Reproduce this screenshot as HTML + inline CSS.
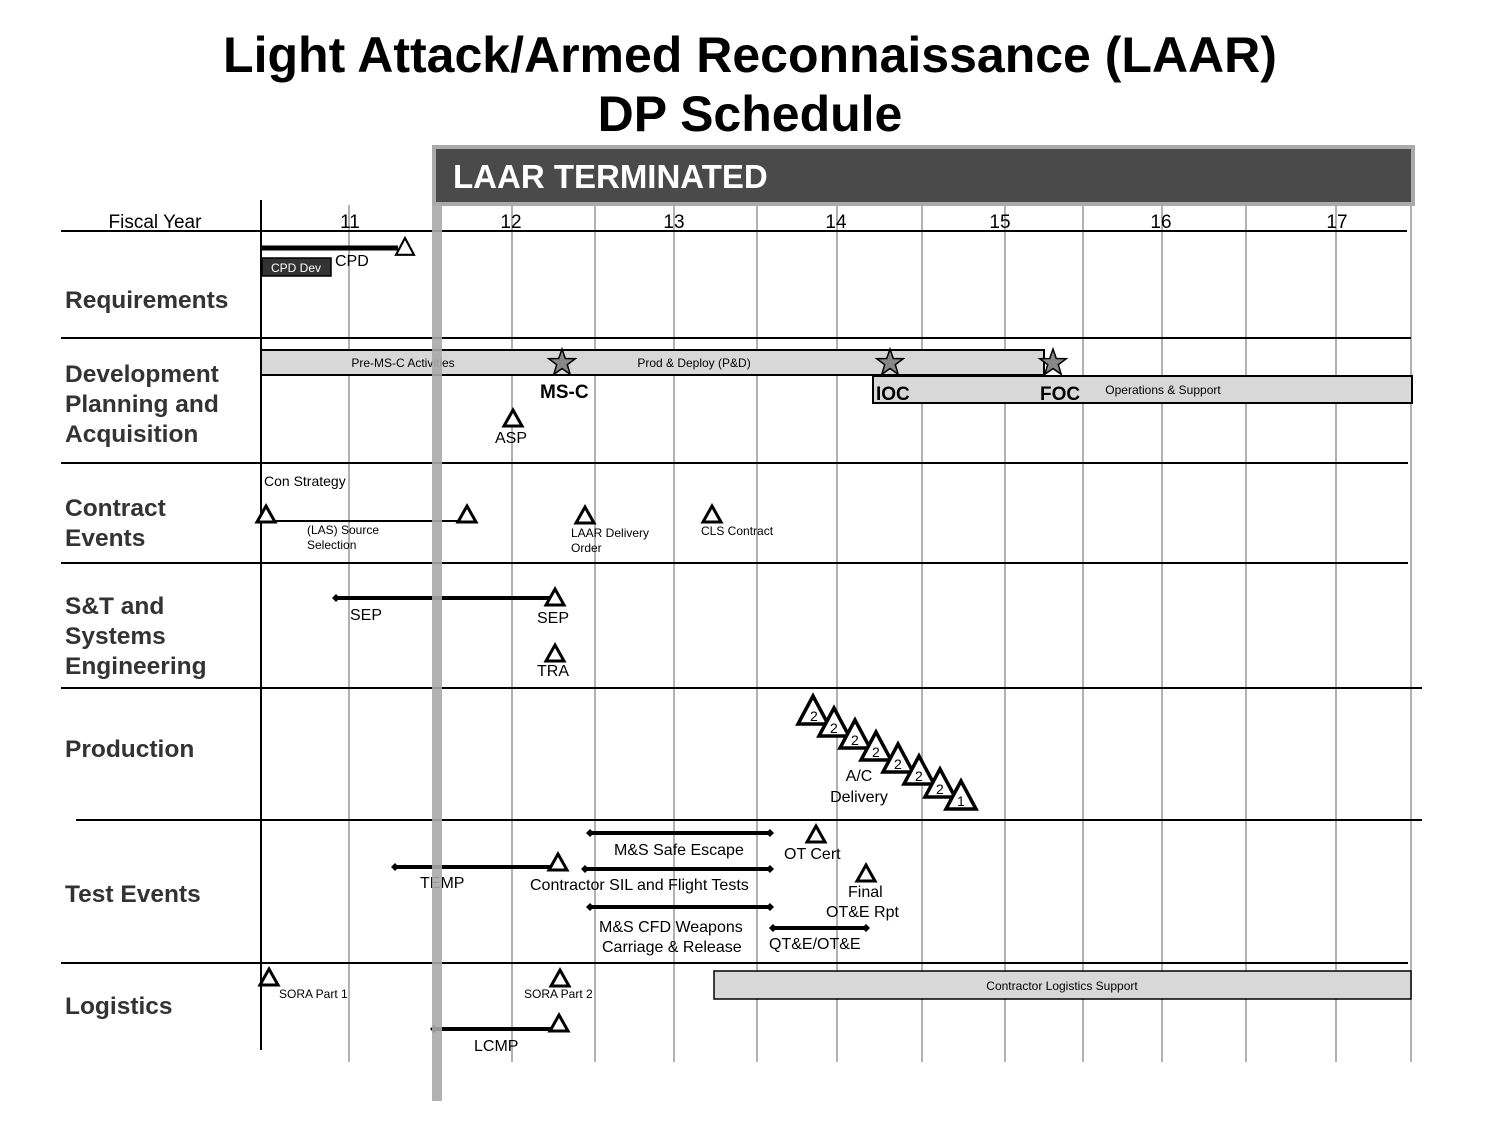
<!DOCTYPE html>
<html><head><meta charset="utf-8"><style>
html,body{margin:0;padding:0;background:#fff}
svg{display:block;font-family:"Liberation Sans",Arial,sans-serif}
</style></head><body>
<svg width="1499" height="1125" viewBox="0 0 1499 1125" xmlns="http://www.w3.org/2000/svg">
<defs>
<g id="tri"><polygon points="0,-8 9,8 -9,8" fill="#fff" stroke="#000" stroke-width="3" stroke-linejoin="miter"/></g>
<g id="btri"><polygon points="0,-15 15,13 -15,13" fill="#fff" stroke="#000" stroke-width="3.5"/></g>
<g id="star"><polygon points="0,-14 3.3,-4.5 13.3,-4.3 5.3,1.7 8.2,11.3 0,5.6 -8.2,11.3 -5.3,1.7 -13.3,-4.3 -3.3,-4.5" fill="#888" stroke="#000" stroke-width="1.5"/></g>
<g id="dia"><polygon points="0,-4 4,0 0,4 -4,0" fill="#000"/></g>
</defs>
<text x="750" y="72" font-size="50" font-weight="bold" text-anchor="middle">Light Attack/Armed Reconnaissance (LAAR)</text>
<text x="750" y="131" font-size="50" font-weight="bold" text-anchor="middle">DP Schedule</text>

<!-- vertical grid -->
<g stroke="#999" stroke-width="1.5">
<line x1="349" y1="205" x2="349" y2="1062"/><line x1="512" y1="205" x2="512" y2="1062"/>
<line x1="595" y1="205" x2="595" y2="1062"/><line x1="674" y1="205" x2="674" y2="1062"/>
<line x1="757" y1="205" x2="757" y2="1062"/><line x1="837" y1="205" x2="837" y2="1062"/>
<line x1="922" y1="205" x2="922" y2="1062"/><line x1="1005" y1="205" x2="1005" y2="1062"/>
<line x1="1083" y1="205" x2="1083" y2="1062"/><line x1="1162" y1="205" x2="1162" y2="1062"/>
<line x1="1246" y1="205" x2="1246" y2="1062"/><line x1="1336" y1="205" x2="1336" y2="1062"/>
<line x1="1411" y1="205" x2="1411" y2="1062"/>
</g>
<line x1="261" y1="200" x2="261" y2="1050" stroke="#000" stroke-width="2"/>

<!-- horizontal -->
<g stroke="#000" stroke-width="2">
<line x1="61" y1="231" x2="1407" y2="231"/><line x1="61" y1="338" x2="1411" y2="338"/>
<line x1="61" y1="463" x2="1408" y2="463"/><line x1="61" y1="563" x2="1408" y2="563"/>
<line x1="61" y1="688" x2="1422" y2="688"/><line x1="76" y1="820" x2="1422" y2="820"/>
<line x1="61" y1="963" x2="1408" y2="963"/>
</g>

<!-- banner -->
<rect x="434" y="147" width="979" height="57" fill="#4a4a4a" stroke="#aaa" stroke-width="4"/>
<text x="453" y="188" font-size="33" font-weight="bold" fill="#fff">LAAR TERMINATED</text>

<!-- year labels -->
<g font-size="19" text-anchor="middle">
<text x="155" y="228">Fiscal Year</text>
<text x="350" y="228">11</text><text x="511" y="228">12</text><text x="674" y="228">13</text>
<text x="836" y="228">14</text><text x="1000" y="228">15</text><text x="1161" y="228">16</text><text x="1337" y="228">17</text>
</g>

<!-- row labels -->
<g font-size="24.5" font-weight="bold" fill="#333">
<text x="65" y="308">Requirements</text>
<text x="65" y="382">Development</text><text x="65" y="412">Planning and</text><text x="65" y="442">Acquisition</text>
<text x="65" y="516">Contract</text><text x="65" y="546">Events</text>
<text x="65" y="614">S&amp;T and</text><text x="65" y="644">Systems</text><text x="65" y="674">Engineering</text>
<text x="65" y="757">Production</text>
<text x="65" y="902">Test Events</text>
<text x="65" y="1014">Logistics</text>
</g>

<!-- Requirements -->
<line x1="261" y1="248" x2="398" y2="248" stroke="#000" stroke-width="5"/>
<use href="#btri" transform="translate(405,247) scale(0.6)"/>
<rect x="262" y="258" width="69" height="18" fill="#333" stroke="#000" stroke-width="1.5"/>
<text x="296" y="272" font-size="12" fill="#fff" text-anchor="middle">CPD Dev</text>
<text x="335" y="266" font-size="16">CPD</text>

<!-- Dev planning -->
<rect x="261" y="350" width="783" height="25" fill="#d8d8d8" stroke="#000" stroke-width="2"/>
<rect x="873" y="376" width="539" height="27" fill="#d8d8d8" stroke="#000" stroke-width="2"/>
<text x="403" y="367" font-size="12" text-anchor="middle">Pre-MS-C Activities</text>
<text x="694" y="367" font-size="12" text-anchor="middle">Prod &amp; Deploy (P&amp;D)</text>
<text x="1163" y="394" font-size="12" text-anchor="middle">Operations &amp; Support</text>
<use href="#star" transform="translate(562,363)"/>
<use href="#star" transform="translate(890,363)"/>
<use href="#star" transform="translate(1053,363)"/>
<g font-size="19" font-weight="bold"><text x="540" y="398">MS-C</text><text x="876" y="400">IOC</text><text x="1040" y="400">FOC</text></g>
<use href="#tri" transform="translate(513,418)"/>
<text x="511" y="443" font-size="16" text-anchor="middle">ASP</text>

<!-- Contract -->
<text x="264" y="486" font-size="14">Con Strategy</text>
<line x1="266" y1="521" x2="467" y2="521" stroke="#000" stroke-width="2"/>
<use href="#tri" transform="translate(266,514)"/>
<use href="#tri" transform="translate(467,514)"/>
<g font-size="12"><text x="307" y="534">(LAS) Source</text><text x="307" y="549">Selection</text>
<text x="571" y="537">LAAR Delivery</text><text x="571" y="552">Order</text>
<text x="701" y="535">CLS Contract</text></g>
<use href="#tri" transform="translate(585,515)"/>
<use href="#tri" transform="translate(712,514)"/>

<!-- S&T -->
<line x1="336" y1="598" x2="553" y2="598" stroke="#000" stroke-width="4"/>
<use href="#dia" transform="translate(336,598)"/>
<use href="#tri" transform="translate(555,597)"/>
<text x="350" y="620" font-size="16">SEP</text>
<text x="537" y="623" font-size="16">SEP</text>
<use href="#tri" transform="translate(555,653)"/>
<text x="537" y="676" font-size="16">TRA</text>

<!-- Production -->
<g font-size="14">
<use href="#btri" transform="translate(813,711)"/><text x="810" y="721">2</text>
<use href="#btri" transform="translate(834,723)"/><text x="830" y="733">2</text>
<use href="#btri" transform="translate(855,735)"/><text x="851" y="745">2</text>
<use href="#btri" transform="translate(876,747)"/><text x="872" y="757">2</text>
<use href="#btri" transform="translate(898,759)"/><text x="894" y="769">2</text>
<use href="#btri" transform="translate(919,771)"/><text x="915" y="781">2</text>
<use href="#btri" transform="translate(940,784)"/><text x="936" y="794">2</text>
<use href="#btri" transform="translate(961,796)"/><text x="957" y="806">1</text>
</g>
<text x="859" y="781" font-size="16" text-anchor="middle">A/C</text>
<text x="859" y="802" font-size="16" text-anchor="middle">Delivery</text>

<!-- Test -->
<g stroke="#000" stroke-width="4">
<line x1="590" y1="833" x2="770" y2="833"/><line x1="585" y1="869" x2="770" y2="869"/>
<line x1="590" y1="907" x2="770" y2="907"/><line x1="395" y1="867" x2="555" y2="867"/>
<line x1="773" y1="928" x2="866" y2="928"/>
</g>
<use href="#dia" transform="translate(590,833)"/><use href="#dia" transform="translate(770,833)"/>
<use href="#dia" transform="translate(585,869)"/><use href="#dia" transform="translate(770,869)"/>
<use href="#dia" transform="translate(590,907)"/><use href="#dia" transform="translate(770,907)"/>
<use href="#dia" transform="translate(395,867)"/>
<use href="#dia" transform="translate(773,928)"/><use href="#dia" transform="translate(866,928)"/>
<use href="#tri" transform="translate(558,862)"/>
<use href="#tri" transform="translate(816,834)"/>
<use href="#tri" transform="translate(866,873)"/>
<g font-size="16">
<text x="614" y="855">M&amp;S Safe Escape</text>
<text x="530" y="890">Contractor  SIL and Flight Tests</text>
<text x="420" y="888">TEMP</text>
<text x="599" y="932">M&amp;S CFD Weapons</text>
<text x="602" y="952">Carriage &amp; Release</text>
<text x="784" y="859">OT Cert</text>
<text x="848" y="897">Final</text>
<text x="826" y="917">OT&amp;E Rpt</text>
<text x="769" y="949">QT&amp;E/OT&amp;E</text>
</g>

<!-- Logistics -->
<use href="#tri" transform="translate(269,977)"/>
<text x="279" y="998" font-size="12">SORA Part 1</text>
<use href="#tri" transform="translate(560,978)"/>
<text x="524" y="998" font-size="12">SORA Part 2</text>
<rect x="714" y="971" width="697" height="28" fill="#d8d8d8" stroke="#000" stroke-width="1.5"/>
<text x="1062" y="990" font-size="12" text-anchor="middle">Contractor Logistics Support</text>
<line x1="434" y1="1029" x2="557" y2="1029" stroke="#000" stroke-width="4"/>
<use href="#dia" transform="translate(434,1029)"/>
<use href="#tri" transform="translate(559,1023)"/>
<text x="474" y="1051" font-size="16">LCMP</text>

<!-- terminated bar -->
<rect x="432" y="205" width="10" height="896" fill="#aaa" opacity="0.9"/>
</svg>
</body></html>
